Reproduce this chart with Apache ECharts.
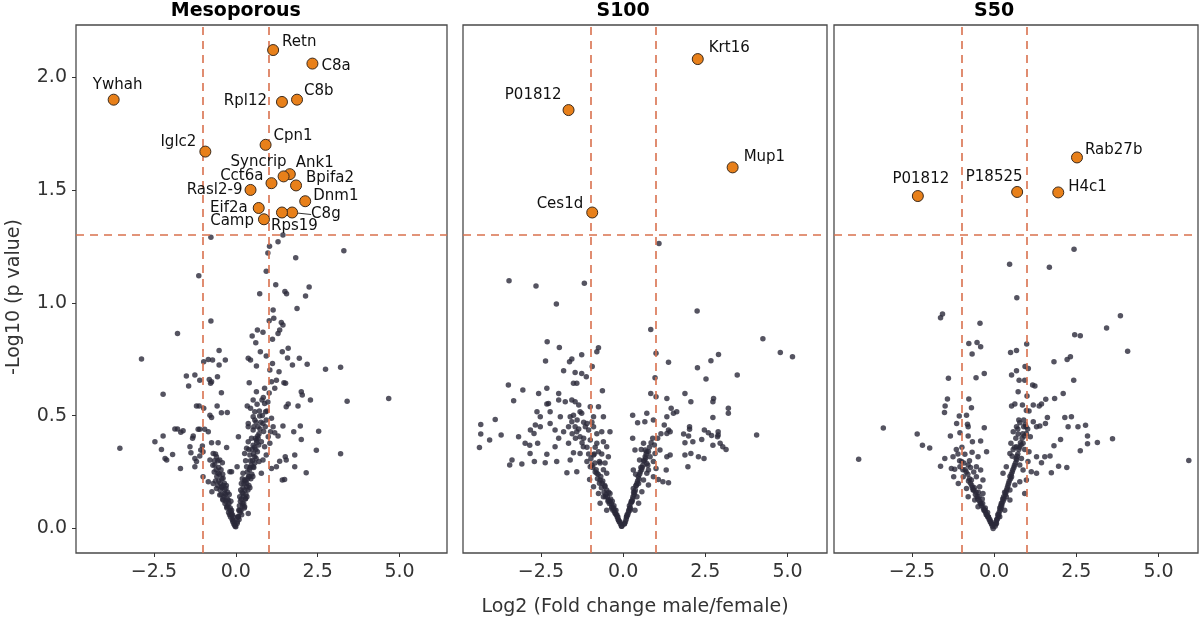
<!DOCTYPE html>
<html><head><meta charset="utf-8">
<script src="https://cdn.jsdelivr.net/npm/echarts@6/dist/echarts.min.js"></script>
<style>html,body{margin:0;padding:0;background:#fff}#c{width:1200px;height:621px}</style>
</head><body><div id="c"></div>
<script>
// ---------- DATA ----------
const panelTitles = ['Mesoporous', 'S100', 'S50'];
const xTicks = [-2.5, 0, 2.5, 5];
const yTicks = [0, 0.5, 1, 1.5, 2];
const fcThresholds = [-1, 1];
const pThreshold = 1.301;
const xAxisTitle = 'Log2 (Fold change male/female)';
const yAxisTitle = '-Log10 (p value)';

const mesoSigNames = ['Retn','C8a','Ywhah','Rpl12','C8b','Cpn1','Iglc2','Ank1','Syncrip','Bpifa2','Cct6a','Rasl2-9','Dnm1','Eif2a','C8g','Rps19','Camp'];
const mesoSigX = [1.14, 2.34, -3.73, 1.41, 1.87, 0.91, -0.93, 1.65, 1.46, 1.84, 1.09, 0.45, 2.12, 0.70, 1.72, 1.41, 0.86];
const mesoSigY = [2.12, 2.06, 1.90, 1.89, 1.90, 1.70, 1.67, 1.57, 1.56, 1.52, 1.53, 1.50, 1.45, 1.42, 1.40, 1.40, 1.37];

const s100SigNames = ['Krt16','P01812','Mup1','Ces1d'];
const s100SigX = [2.27, -1.66, 3.33, -0.94];
const s100SigY = [2.08, 1.854, 1.60, 1.40];

const s50SigNames = ['P01812','P18525','H4c1','Rab27b'];
const s50SigX = [-2.32, 0.70, 1.95, 2.52];
const s50SigY = [1.473, 1.491, 1.489, 1.644];

const mesoGrey = [
[-0.76,1.29],[-1.13,1.12],[1.03,1.25],[0.98,1.22],[1.29,1.27],[1.44,1.30],[0.93,1.14],[1.22,1.08],[1.83,1.20],[3.30,1.23],[2.24,1.07],[2.13,1.03],[1.50,1.05],[1.55,1.04],[0.73,1.04],[1.87,0.975],
[4.67,0.576],[3.40,0.564],[3.20,0.714],[2.74,0.705],[3.20,0.331],[2.46,0.346],[2.53,0.431],[2.28,0.569],[2.15,0.247],[2.00,0.394],[1.97,0.454],[2.03,0.591],[2.00,0.606],[1.90,0.542],[1.77,0.428],[1.80,0.325],[1.80,0.273],[2.18,0.727],[1.94,0.754],[1.73,0.724],[1.58,0.755],[1.60,0.798],[1.42,0.783],[1.52,0.643],[1.24,0.657],[1.19,0.621],[1.47,0.646],[1.54,0.539],[1.60,0.551],[1.44,0.454],[1.29,0.409],[1.51,0.318],[1.54,0.303],[1.42,0.214],[1.49,0.217],[1.34,0.298],[1.24,0.273],[1.09,0.266],
[1.14,0.968],[1.16,0.931],[1.02,0.920],[1.39,0.912],[1.44,0.901],[1.34,0.879],[1.29,0.864],[1.12,0.838],[0.83,0.869],[0.66,0.879],[0.50,0.853],[0.61,0.823],[0.75,0.783],[0.93,0.764],[1.12,0.731],[0.38,0.754],[0.45,0.746],[0.63,0.720],[1.04,0.702],[1.32,0.694],[0.41,0.646],[0.63,0.606],[0.88,0.621],[1.09,0.650],[0.80,0.569],[0.88,0.554],[0.53,0.569],[0.35,0.542],[0.45,0.532],[0.58,0.517],[0.53,0.495],[0.73,0.498],[0.91,0.517],[0.83,0.465],[0.93,0.480],[1.09,0.488],[1.14,0.451],[1.06,0.428],[1.19,0.424],[0.38,0.465],[0.38,0.451],[0.53,0.436],[0.68,0.399],[0.78,0.384],[0.88,0.362],[0.99,0.406],[1.04,0.377],[0.93,0.325],[0.63,0.391],[0.53,0.369],[0.38,0.384],[0.33,0.355],[0.27,0.332],[0.43,0.325],[0.58,0.318],[0.71,0.296],[0.83,0.303],[0.78,0.244],[0.53,0.273],[0.33,0.273],[0.22,0.244],[0.41,0.229],[0.27,0.214],[0.17,0.199],[0.33,0.185],[0.22,0.155],[0.12,0.140],[0.30,0.133],[0.20,0.111],[0.12,0.081],[0.27,0.096],[0.38,0.066],[0.07,0.052],[0.04,0.022],[0.08,0.406],[0.04,0.273],[-0.13,0.251],[0.00,0.007],
[-3.54,0.355],[-2.88,0.751],[-2.22,0.595],[-1.78,0.864],[-2.47,0.384],[-2.22,0.409],[-2.27,0.350],[-2.16,0.310],[-2.11,0.303],[-1.93,0.328],[-1.86,0.440],[-1.78,0.440],[-1.68,0.426],[-1.61,0.433],[-1.69,0.266],[-1.51,0.675],[-1.44,0.631],[-1.25,0.680],[-1.10,0.657],[-1.20,0.542],[-1.12,0.542],[-1.30,0.409],[-1.32,0.399],[-1.37,0.335],[-1.40,0.362],[-1.25,0.310],[-1.25,0.273],[-1.20,0.296],[-1.15,0.439],[-1.10,0.439],[-0.95,0.439],[-1.02,0.365],[-1.07,0.347],[-1.10,0.321],[-1.00,0.340],[-0.98,0.532],[-0.98,0.739],[-0.84,0.749],[-0.71,0.746],[-0.51,0.788],[-0.76,0.919],[-0.32,0.746],[-0.51,0.724],[-0.81,0.660],[-0.74,0.650],[-0.77,0.643],[-0.56,0.672],[-0.44,0.601],[-0.57,0.542],[-0.44,0.513],[-0.26,0.514],[-0.79,0.502],[-0.74,0.491],[-0.84,0.428],[-0.74,0.380],[-0.54,0.380],[-0.28,0.359],[-0.69,0.332],[-0.59,0.318],[-0.79,0.303],[-0.49,0.303],[-0.64,0.281],[-0.41,0.291],[-1.00,0.229],[-0.84,0.207],[-0.69,0.199],[-0.54,0.244],[-0.39,0.222],[-0.59,0.177],[-0.44,0.185],[-0.73,0.163],[-0.49,0.148],[-0.34,0.155],[-0.39,0.126],[-0.23,0.126],[-0.28,0.096],[-0.18,0.081],[-0.13,0.059],[-0.08,0.037],[-0.03,0.015],[-0.18,0.251],[-0.30,0.177],
[-0.66,0.25],[-0.62,0.21],[-0.58,0.23],[-0.55,0.19],[-0.52,0.21],[-0.48,0.17],[-0.45,0.15],[-0.42,0.18],[-0.40,0.13],[-0.36,0.14],[-0.33,0.11],[-0.30,0.12],[-0.27,0.09],[-0.24,0.10],[-0.22,0.07],[-0.19,0.06],[-0.16,0.05],[-0.14,0.07],[-0.11,0.04],[-0.09,0.03],[-0.06,0.02],[-0.04,0.03],[-0.02,0.01],[-0.35,0.20],[-0.25,0.16],[-0.45,0.26],[-0.55,0.30],[-0.70,0.28],[-0.62,0.33],
[0.05,0.03],[0.08,0.05],[0.10,0.04],[0.13,0.07],[0.16,0.08],[0.18,0.06],[0.21,0.10],[0.24,0.11],[0.26,0.09],[0.29,0.13],[0.31,0.15],[0.34,0.14],[0.37,0.17],[0.40,0.19],[0.43,0.18],[0.46,0.22],[0.49,0.24],[0.52,0.23],[0.55,0.27],[0.58,0.29],[0.62,0.31],[0.66,0.34],[0.70,0.37],[0.45,0.30],[0.35,0.25],[0.60,0.40],[0.25,0.20],[0.50,0.35],[0.68,0.45],[0.58,0.48],
[-0.60,0.26],[-0.50,0.24],[-0.47,0.20],[-0.43,0.22],[-0.38,0.19],[-0.34,0.17],[-0.31,0.15],[-0.29,0.19],[-0.26,0.13],[-0.21,0.11],[-0.17,0.09],[-0.13,0.08],[-0.10,0.06],[-0.07,0.05],[-0.20,0.15],[-0.15,0.12],[-0.65,0.30],[-0.52,0.27],[-0.40,0.24],
[0.06,0.05],[0.09,0.08],[0.11,0.10],[0.14,0.12],[0.17,0.13],[0.19,0.16],[0.22,0.18],[0.23,0.14],[0.28,0.17],[0.30,0.21],[0.33,0.20],[0.36,0.22],[0.39,0.23],[0.42,0.26],[0.44,0.27],[0.47,0.28],[0.51,0.30],[0.54,0.33],[0.57,0.36],[0.61,0.35],[0.64,0.38],[0.67,0.41],[0.71,0.42],[0.74,0.44],[0.77,0.47],[0.81,0.50],[0.85,0.43],[0.90,0.45],[0.95,0.52],[0.98,0.56],[1.02,0.60],[0.72,0.52],[0.65,0.55],[0.84,0.58],[0.48,0.40],[0.40,0.35],[0.55,0.45],[0.62,0.47],[0.30,0.30],[0.20,0.22],[0.15,0.17]
];

const s100Grey = [
[-3.47,1.098],[-2.65,1.074],[-1.18,1.086],[1.09,1.263],[-2.03,0.994],[2.25,0.963],[0.84,0.882],[4.25,0.841],[4.78,0.780],[5.15,0.761],[1.00,0.776],[-2.31,0.827],[-1.94,0.802],[-1.26,0.770],[-0.75,0.801],[-0.80,0.783],[-2.36,0.742],[-1.56,0.751],[-1.63,0.739],[-0.94,0.717],[-1.81,0.699],[-1.46,0.691],[-1.26,0.687],[-1.12,0.672],[1.38,0.736],[2.90,0.771],[2.67,0.743],[2.26,0.712],[0.97,0.668],[3.47,0.680],[2.52,0.662],[-3.49,0.635],[-3.05,0.613],[-2.57,0.598],[-2.32,0.621],[-1.96,0.598],[-1.51,0.643],[-1.41,0.643],[-0.63,0.610],[-3.33,0.566],[-2.27,0.554],[-2.32,0.551],[-2.62,0.517],[-1.96,0.569],[-1.76,0.561],[-1.56,0.569],[-1.46,0.561],[-1.35,0.547],[-1.00,0.539],[-0.75,0.539],[-0.90,0.495],[-1.31,0.517],[-1.26,0.510],[-1.51,0.502],[-1.61,0.495],[-2.22,0.517],[-2.52,0.495],[-1.91,0.495],[-3.89,0.483],[-4.33,0.461],[-4.33,0.418],[-4.06,0.392],[-4.37,0.359],[-3.71,0.414],[-3.18,0.406],[-2.82,0.436],[-2.67,0.458],[-2.52,0.451],[-2.71,0.421],[-2.98,0.377],[-2.84,0.369],[-2.60,0.377],[-2.22,0.465],[-2.07,0.436],[-1.96,0.399],[-1.81,0.428],[-1.66,0.451],[-1.56,0.473],[-1.46,0.451],[-1.41,0.428],[-1.31,0.406],[-1.10,0.465],[-1.05,0.436],[-0.90,0.451],[-0.60,0.495],[-0.65,0.428],[-0.40,0.428],[-2.83,0.332],[-2.32,0.329],[-2.07,0.362],[-1.66,0.377],[-1.51,0.335],[-1.31,0.332],[-1.21,0.362],[-1.00,0.392],[-0.80,0.377],[-0.60,0.384],[-0.50,0.362],[-3.38,0.303],[-3.45,0.281],[-3.08,0.285],[-2.70,0.296],[-2.37,0.291],[-2.02,0.296],[-1.61,0.303],[-1.71,0.247],[-1.41,0.251],[-1.10,0.296],[-0.90,0.325],[-0.72,0.296],[-0.45,0.318],[-1.00,0.273],[-0.80,0.244],[-1.02,0.217],[-0.90,0.185],[-0.70,0.214],[-0.55,0.185],[-0.75,0.155],[-0.60,0.140],[-0.45,0.126],[-0.40,0.155],[-0.34,0.096],[-0.24,0.066],[-0.14,0.037],[-0.04,0.010],[-0.50,0.244],[-0.70,0.111],[-0.50,0.081],
[0.29,0.502],[0.44,0.468],[0.72,0.510],[0.66,0.473],[0.84,0.598],[1.00,0.584],[0.92,0.480],[1.33,0.576],[1.46,0.532],[1.63,0.517],[1.53,0.510],[1.33,0.495],[1.25,0.458],[1.38,0.436],[1.33,0.421],[1.43,0.428],[1.88,0.598],[2.06,0.561],[2.75,0.576],[2.73,0.561],[3.20,0.532],[3.20,0.510],[2.73,0.492],[2.02,0.451],[2.02,0.439],[1.84,0.418],[1.99,0.409],[2.47,0.436],[2.59,0.424],[2.69,0.412],[2.89,0.428],[2.89,0.414],[2.87,0.406],[4.06,0.414],[1.88,0.380],[2.12,0.384],[2.39,0.394],[2.73,0.369],[2.95,0.377],[3.13,0.350],[3.03,0.362],[1.88,0.325],[2.06,0.332],[2.29,0.318],[2.46,0.310],[1.97,0.273],[0.29,0.399],[0.36,0.347],[0.62,0.377],[0.67,0.347],[0.77,0.340],[0.82,0.318],[0.97,0.332],[1.12,0.347],[1.33,0.318],[1.43,0.325],[0.50,0.303],[0.72,0.288],[0.92,0.296],[1.00,0.266],[1.31,0.259],[0.31,0.259],[0.77,0.259],[0.72,0.244],[0.92,0.229],[1.07,0.217],[1.21,0.207],[1.38,0.202],[0.62,0.214],[0.47,0.199],[0.77,0.192],[0.31,0.177],[0.57,0.163],[0.42,0.140],[0.26,0.118],[0.47,0.111],[0.21,0.081],[0.11,0.052],[0.04,0.022],[0.36,0.081],[0.67,0.318],
[-0.95,0.28],[-0.85,0.25],[-0.78,0.22],[-0.72,0.20],[-0.66,0.18],[-0.62,0.21],[-0.58,0.16],[-0.54,0.14],[-0.50,0.17],[-0.46,0.12],[-0.42,0.11],[-0.38,0.13],[-0.35,0.09],[-0.31,0.08],[-0.28,0.10],[-0.25,0.07],[-0.21,0.06],[-0.18,0.05],[-0.15,0.04],[-0.12,0.03],[-0.08,0.02],[-0.05,0.01],[-0.88,0.33],[-0.70,0.29],[-0.60,0.26],[-1.10,0.36],[-1.20,0.40],[-0.80,0.42],[-0.95,0.47],
[0.04,0.02],[0.07,0.03],[0.10,0.05],[0.14,0.06],[0.17,0.08],[0.20,0.09],[0.23,0.11],[0.27,0.12],[0.30,0.14],[0.33,0.15],[0.37,0.17],[0.40,0.19],[0.44,0.21],[0.48,0.22],[0.52,0.25],[0.56,0.26],[0.60,0.28],[0.65,0.30],[0.70,0.33],[0.38,0.24],[0.55,0.35],[0.75,0.28],
[-1.05,0.33],[-0.98,0.31],[-0.92,0.27],[-0.86,0.29],[-0.82,0.26],[-0.76,0.24],[-0.68,0.23],[-0.64,0.20],[-0.56,0.19],[-0.52,0.15],[-0.48,0.14],[-0.44,0.16],[-0.40,0.12],[-0.36,0.11],[-0.33,0.12],[-0.29,0.09],[-0.26,0.08],[-0.22,0.08],[-0.19,0.06],[-0.16,0.05],[-0.10,0.03],[-1.15,0.45],[-1.25,0.38],[-1.35,0.44],[-1.45,0.40],[-1.20,0.47],[-0.85,0.36],[-0.75,0.34],[-0.65,0.33],[-0.55,0.29],[-1.40,0.48],[-1.55,0.42],
[0.09,0.04],[0.12,0.06],[0.16,0.07],[0.19,0.10],[0.22,0.09],[0.25,0.12],[0.29,0.13],[0.32,0.16],[0.35,0.16],[0.39,0.19],[0.42,0.20],[0.46,0.23],[0.50,0.24],[0.54,0.27],[0.58,0.27],[0.62,0.30],[0.68,0.31],[0.72,0.34],[0.80,0.36],[0.85,0.38],[0.90,0.40],[0.95,0.37],[1.05,0.40],[1.15,0.42]
];

const s50Grey = [
[2.43,1.237],[0.47,1.171],[1.68,1.157],[0.69,1.022],
[-1.63,0.934],[-1.57,0.950],[-0.43,0.909],[-0.77,0.820],[-0.52,0.824],[-0.41,0.805],[-0.67,0.773],[-1.39,0.666],[-0.55,0.668],[-0.30,0.687],[-1.42,0.573],[-1.49,0.542],[-1.51,0.514],[-0.77,0.573],[-0.69,0.535],[-1.06,0.498],[-1.14,0.465],[-0.84,0.502],[-0.81,0.462],[-0.79,0.451],[-0.30,0.446],[-3.37,0.445],[-2.34,0.418],[-1.33,0.409],[-1.04,0.424],[-0.79,0.409],[-2.18,0.369],[-1.96,0.356],[-0.66,0.384],[-0.41,0.387],[-4.12,0.306],[5.92,0.301],[-1.50,0.310],[-1.25,0.318],[-0.99,0.296],[-0.89,0.329],[-0.67,0.337],[-0.49,0.318],[-0.23,0.340],[-1.63,0.276],[-1.30,0.266],[-1.20,0.262],[-1.04,0.273],[-0.79,0.281],[-0.54,0.273],[-0.41,0.259],[-1.23,0.229],[-1.09,0.199],[-0.94,0.229],[-0.69,0.214],[-0.54,0.229],[-0.34,0.214],[-0.84,0.177],[-0.64,0.170],[-0.44,0.185],[-0.79,0.140],[-0.59,0.126],[-0.34,0.155],[-0.49,0.096],[-0.28,0.081],[-0.18,0.052],[-0.08,0.022],[-0.03,0.0],
[3.84,0.943],[3.42,0.888],[4.06,0.785],[2.45,0.858],[2.62,0.854],[2.32,0.761],[2.22,0.749],[1.82,0.739],[0.99,0.817],[0.50,0.780],[0.68,0.788],[0.68,0.699],[0.53,0.680],[0.76,0.657],[0.94,0.717],[1.04,0.709],[0.93,0.657],[1.17,0.635],[1.24,0.631],[2.42,0.657],[2.10,0.598],[1.84,0.576],[1.57,0.572],[1.44,0.551],[1.37,0.542],[1.19,0.547],[0.73,0.606],[1.00,0.587],[0.53,0.542],[0.63,0.551],[0.86,0.547],[0.98,0.522],[1.06,0.520],[2.15,0.491],[2.35,0.495],[1.62,0.491],[1.56,0.465],[1.39,0.454],[1.29,0.451],[1.19,0.473],[0.78,0.468],[0.90,0.451],[0.68,0.451],[0.58,0.428],[0.73,0.418],[0.98,0.421],[1.10,0.406],[2.25,0.451],[2.55,0.451],[2.78,0.457],[2.84,0.409],[2.84,0.375],[3.14,0.381],[3.60,0.397],[2.02,0.394],[1.82,0.366],[2.62,0.344],[0.51,0.377],[0.68,0.362],[0.88,0.377],[1.06,0.340],[1.29,0.318],[1.54,0.318],[1.70,0.321],[1.44,0.291],[1.96,0.276],[2.21,0.270],[1.74,0.247],[0.48,0.332],[0.68,0.303],[0.78,0.281],[0.88,0.259],[1.03,0.296],[1.13,0.251],[1.29,0.244],[0.37,0.273],[0.27,0.244],[0.53,0.229],[0.78,0.207],[0.98,0.214],[0.93,0.155],[0.63,0.192],[0.48,0.170],[0.37,0.140],[0.22,0.111],[0.48,0.126],[0.32,0.081],[0.17,0.052],[0.07,0.022],
[-0.85,0.25],[-0.75,0.22],[-0.68,0.19],[-0.62,0.17],[-0.57,0.15],[-0.52,0.14],[-0.48,0.16],[-0.44,0.12],[-0.40,0.11],[-0.36,0.13],[-0.33,0.09],[-0.29,0.08],[-0.26,0.07],[-0.22,0.06],[-0.19,0.05],[-0.15,0.04],[-0.12,0.03],[-0.08,0.02],[-0.05,0.01],[-0.72,0.27],[-0.95,0.26],[-1.05,0.30],
[0.03,0.01],[0.06,0.03],[0.09,0.04],[0.12,0.05],[0.15,0.07],[0.18,0.08],[0.21,0.09],[0.24,0.11],[0.27,0.12],[0.30,0.13],[0.34,0.15],[0.38,0.17],[0.42,0.19],[0.46,0.21],[0.50,0.22],[0.55,0.25],[0.60,0.27],[0.65,0.29],[0.70,0.32],[0.75,0.35],[0.80,0.38],[0.85,0.40],[0.62,0.36],[0.72,0.44],[0.90,0.48],[0.95,0.46],[0.55,0.32],
[-0.92,0.29],[-0.88,0.26],[-0.80,0.24],[-0.78,0.21],[-0.72,0.20],[-0.66,0.18],[-0.60,0.18],[-0.55,0.16],[-0.50,0.13],[-0.46,0.14],[-0.42,0.11],[-0.38,0.10],[-0.35,0.11],[-0.31,0.08],[-0.27,0.09],[-0.24,0.06],[-0.20,0.07],[-0.17,0.05],[-0.13,0.04],[-0.10,0.03],[-1.10,0.33],[-1.15,0.35],[-0.98,0.36],[-0.75,0.30],[-0.62,0.25],
[0.05,0.02],[0.08,0.04],[0.11,0.06],[0.14,0.06],[0.17,0.09],[0.20,0.10],[0.23,0.10],[0.26,0.13],[0.29,0.14],[0.32,0.16],[0.36,0.16],[0.40,0.18],[0.44,0.20],[0.48,0.23],[0.52,0.24],[0.57,0.26],[0.62,0.28],[0.67,0.31],[0.72,0.33],[0.77,0.36],[0.82,0.37],[0.87,0.42],[0.92,0.41],[0.97,0.45],[1.02,0.44],[0.83,0.31],[0.93,0.35],[0.66,0.40],[0.75,0.48],[0.58,0.35]
];

// ---------- LAYOUT / STYLE ----------
const FONT = 'DejaVu Sans';
const grids = [
  {left: 76,  top: 25, width: 371, height: 528},
  {left: 463, top: 25, width: 364, height: 528},
  {left: 834, top: 25, width: 364, height: 528}
];
const xRanges = [[-4.88, 6.45], [-4.87, 6.2], [-4.87, 6.2]];
const yRange = [-0.109, 2.231];
// label placement: [align, dx, dy, leaderLine]
const labelPlacement = [
  {Retn:['left',9,-8], C8a:['left',9,3], Ywhah:['center',4,-15], Rpl12:['right',-15,-1], C8b:['left',7,-9],
   Cpn1:['left',8,-9], Iglc2:['right',-9,-9], Ank1:['left',6,-11], Syncrip:['right',3,-14], Bpifa2:['left',10,-7],
   Cct6a:['right',-8,-7], 'Rasl2-9':['right',-8,0], Dnm1:['left',8,-5], Eif2a:['right',-11,0], C8g:['left',19,2,true],
   Rps19:['left',-11,14], Camp:['right',-10,2]},
  {Krt16:['left',11,-11], P01812:['right',-7,-15], Mup1:['left',11,-10], Ces1d:['right',-9,-8]},
  {P01812:['center',3,-17], P18525:['center',-23,-15], H4c1:['left',10,-5], Rab27b:['left',8,-7]}
];
const greyColor = '#2b2939';
const sigFill = '#E8801A';
const sigBorder = '#3b2a1c';
const dashColor = '#D9714E';
const axisTextColor = '#333';

const panelGrey = [mesoGrey, s100Grey, s50Grey];
const panelSig = [
  [mesoSigNames, mesoSigX, mesoSigY],
  [s100SigNames, s100SigX, s100SigY],
  [s50SigNames, s50SigX, s50SigY]
];

const fmt = v => (v < 0 ? '\u2212' : '') + Math.abs(v).toFixed(1);

const xAxes = [], yAxes = [], series = [];
for (let i = 0; i < 3; i++) {
  xAxes.push({
    gridIndex: i, type: 'value', min: xRanges[i][0], max: xRanges[i][1], position: 'bottom',
    axisLine: {show: false, onZero: false}, splitLine: {show: false},
    axisTick: {show: true, customValues: xTicks, length: 4, lineStyle: {color: '#333', width: 1}},
    axisLabel: {customValues: xTicks, formatter: fmt, fontSize: 19, fontFamily: FONT, color: axisTextColor, margin: 10}
  });
  yAxes.push({
    gridIndex: i, type: 'value', min: yRange[0], max: yRange[1], position: 'left',
    axisLine: {show: false, onZero: false}, splitLine: {show: false},
    axisTick: {show: i === 0, customValues: yTicks, length: 4, lineStyle: {color: '#333', width: 1}},
    axisLabel: {show: i === 0, customValues: yTicks, formatter: fmt, fontSize: 19, fontFamily: FONT, color: axisTextColor, margin: 9}
  });
  series.push({
    type: 'scatter', xAxisIndex: i, yAxisIndex: i, data: panelGrey[i],
    symbolSize: 5.5, itemStyle: {color: greyColor, opacity: 0.8}, silent: true, z: 2,
    markLine: {
      silent: true, symbol: 'none', label: {show: false},
      lineStyle: {color: dashColor, type: [8, 6], width: 1.6, opacity: 1},
      data: fcThresholds.map(v => ({xAxis: v})).concat([{yAxis: pThreshold}])
    }
  });
  const [names, xs, ys] = panelSig[i];
  const place = labelPlacement[i];
  const data = names.map((n, k) => {
    const p = place[n];
    const item = {
      value: [xs[k], ys[k]], name: n,
      label: {show: true, position: 'inside', align: p[0], verticalAlign: 'middle', offset: [p[1], p[2]]}
    };
    if (p[3]) item.labelLine = {show: true, lineStyle: {color: '#333', width: 1}};
    return item;
  });
  series.push({
    type: 'scatter', xAxisIndex: i, yAxisIndex: i, data: data, z: 5,
    symbolSize: 11, itemStyle: {color: sigFill, borderColor: sigBorder, borderWidth: 1, opacity: 1},
    label: {show: true, formatter: '{b}', fontSize: 15, fontFamily: FONT, color: '#111'},
    labelLine: {show: false}
  });
}

const chart = echarts.init(document.getElementById('c'), null, {renderer: 'canvas'});
chart.setOption({
  animation: false,
  backgroundColor: '#fff',
  textStyle: {fontFamily: FONT},
  grid: grids.map(g => Object.assign({show: true, borderColor: '#4a4a4a', borderWidth: 1.3, backgroundColor: 'transparent'}, g)),
  xAxis: xAxes, yAxis: yAxes, series: series
});

// titles centered at x = 0 of each panel
const graphics = panelTitles.map((t, i) => ({
  type: 'text', x: chart.convertToPixel({xAxisIndex: i}, 0), y: 11,
  style: {text: t, font: 'bold 19px "' + FONT + '"', fill: '#000', align: 'center', verticalAlign: 'middle'}
}));
graphics.push({type: 'text', x: 635, y: 607,
  style: {text: xAxisTitle, font: '19px "' + FONT + '"', fill: axisTextColor, align: 'center', verticalAlign: 'middle'}});
graphics.push({type: 'text', x: 14, y: 297, rotation: Math.PI / 2,
  style: {text: yAxisTitle, font: '19px "' + FONT + '"', fill: axisTextColor, align: 'center', verticalAlign: 'middle'}});
chart.setOption({graphic: graphics});
</script>
</body></html>
